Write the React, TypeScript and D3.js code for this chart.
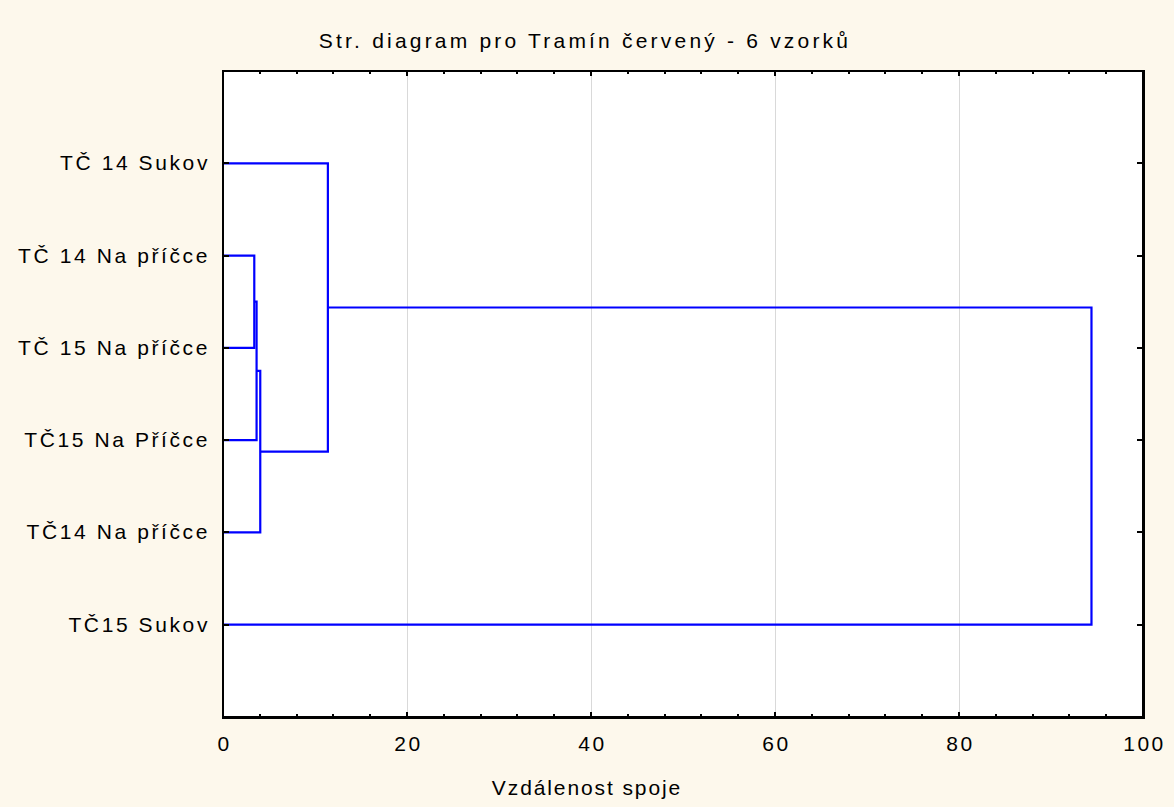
import React, { useRef, useEffect } from 'react';
import * as d3 from 'd3';

// ==================== DATA ====================
const TITLE = 'Str. diagram pro Tramín červený - 6 vzorků';
const X_LABEL = 'Vzdálenost spoje';

// leaves, top to bottom
const LEAVES = [
    'TČ 14 Sukov',
    'TČ 14 Na příčce',
    'TČ 15 Na příčce',
    'TČ15 Na Příčce',
    'TČ14 Na příčce',
    'TČ15 Sukov'
];

// linkage: [left, right, distance]; index < 6 = leaf, otherwise earlier merge (6 + k)
const MERGE_LEFT = [1, 6, 7, 0, 9];
const MERGE_RIGHT = [2, 3, 4, 8, 5];
const MERGE_DIST = [3.4, 3.65, 4.05, 11.4, 94.4];

const X_DOMAIN = [0, 100];
const X_TICKS = [0, 20, 40, 60, 80, 100];
const X_MINOR = [4, 8, 12, 16, 24, 28, 32, 36, 44, 48, 52, 56, 64, 68, 72, 76, 84, 88, 92, 96];
const GRID = [20, 40, 60, 80];

// ==================== STYLE ====================
const W = 1174;
const H = 807;
const M = { left: 223, right: 31, top: 71, bottom: 90 };
const COLORS = {
    bg: '#FDF8EC',
    plot: '#FFFFFF',
    frame: '#000000',
    grid: '#D9D9D9',
    link: '#0000FF',
    text: '#000000'
};
const FONT = "'Liberation Sans', Arial, sans-serif";

const App = () => {
    const svgRef = useRef<SVGSVGElement | null>(null);

    useEffect(() => {
        const svg = d3.select(svgRef.current);
        svg.selectAll('*').remove();

        const x0 = M.left, x1 = W - M.right, y0 = M.top, y1 = H - M.bottom;
        const x = d3.scaleLinear().domain(X_DOMAIN).range([x0, x1]);
        const y = d3.scalePoint<string>().domain(LEAVES).range([y0, y1]).padding(1);

        svg.append('rect').attr('width', W).attr('height', H).attr('fill', COLORS.bg);
        svg.append('rect')
            .attr('x', x0).attr('y', y0)
            .attr('width', x1 - x0).attr('height', y1 - y0)
            .attr('fill', COLORS.plot);

        // grid
        svg.append('g').selectAll('line').data(GRID).enter().append('line')
            .attr('x1', d => x(d)).attr('x2', d => x(d))
            .attr('y1', y0).attr('y2', y1)
            .attr('stroke', COLORS.grid).attr('stroke-width', 1)
            .attr('shape-rendering', 'crispEdges');

        // ---- dendrogram ----
        const n = LEAVES.length;
        const pos: { y: number; h: number }[] = LEAVES.map(l => ({ y: y(l) as number, h: 0 }));
        const links = svg.append('g')
            .attr('fill', 'none')
            .attr('stroke', COLORS.link)
            .attr('stroke-width', 2.2);

        MERGE_DIST.forEach((dist, i) => {
            const a = pos[MERGE_LEFT[i]];
            const b = pos[MERGE_RIGHT[i]];
            const path = d3.path();
            path.moveTo(x(a.h), a.y);
            path.lineTo(x(dist), a.y);
            path.lineTo(x(dist), b.y);
            path.lineTo(x(b.h), b.y);
            links.append('path').attr('d', path.toString());
            pos[n + i] = { y: (a.y + b.y) / 2, h: dist };
        });

        // ---- frame ----
        const frame = svg.append('g').attr('stroke', COLORS.frame).attr('shape-rendering', 'crispEdges');
        frame.append('rect')
            .attr('x', x0).attr('y', y0)
            .attr('width', x1 - x0).attr('height', y1 - y0)
            .attr('fill', 'none').attr('stroke-width', 2);
        // slightly heavier right/bottom edges
        frame.append('line').attr('x1', x1 + 1).attr('x2', x1 + 1).attr('y1', y0 - 1).attr('y2', y1 + 2).attr('stroke-width', 2);
        frame.append('line').attr('x1', x0 - 1).attr('x2', x1 + 2).attr('y1', y1 + 1).attr('y2', y1 + 1).attr('stroke-width', 2);

        // x ticks (inward, bottom and top)
        const ticks = svg.append('g').attr('stroke', COLORS.frame).attr('stroke-width', 2).attr('shape-rendering', 'crispEdges');
        const addX = (vals: number[], len: number) => {
            vals.forEach(v => {
                ticks.append('line').attr('x1', x(v)).attr('x2', x(v)).attr('y1', y1).attr('y2', y1 - len);
                ticks.append('line').attr('x1', x(v)).attr('x2', x(v)).attr('y1', y0).attr('y2', y0 + len);
            });
        };
        addX(X_MINOR, 3);
        addX(X_TICKS.slice(1, -1), 5);
        // y ticks at leaves (left and right, inward)
        LEAVES.forEach(l => {
            const yy = y(l) as number;
            ticks.append('line').attr('x1', x0).attr('x2', x0 + 6).attr('y1', yy).attr('y2', yy);
            ticks.append('line').attr('x1', x1).attr('x2', x1 - 6).attr('y1', yy).attr('y2', yy);
        });

        // ---- text ----
        const txt = svg.append('g')
            .attr('font-family', FONT)
            .attr('font-size', 21)
            .attr('fill', COLORS.text);

        txt.append('text')
            .attr('x', W / 2 - 2).attr('y', 48)
            .attr('text-anchor', 'middle')
            .attr('letter-spacing', 3.2)
            .text(TITLE);

        txt.selectAll('.ylab').data(LEAVES).enter().append('text')
            .attr('class', 'ylab')
            .attr('x', x0 - 13).attr('y', d => (y(d) as number) + 7)
            .attr('text-anchor', 'end')
            .attr('letter-spacing', 2.6)
            .text(d => d);

        txt.selectAll('.xlab').data(X_TICKS).enter().append('text')
            .attr('class', 'xlab')
            .attr('x', d => x(d) + 1.5).attr('y', y1 + 34)
            .attr('text-anchor', 'middle')
            .attr('letter-spacing', 2.5)
            .text(d => d);

        txt.append('text')
            .attr('x', (x0 + x1) / 2 - 96).attr('y', H - 12)
            .attr('text-anchor', 'middle')
            .attr('letter-spacing', 1.9)
            .text(X_LABEL);
    }, []);

    return (
        <svg
            ref={svgRef}
            width={W}
            height={H}
            style={{ position: 'fixed', top: 0, left: 0, display: 'block' }}
        />
    );
};

export default App;
